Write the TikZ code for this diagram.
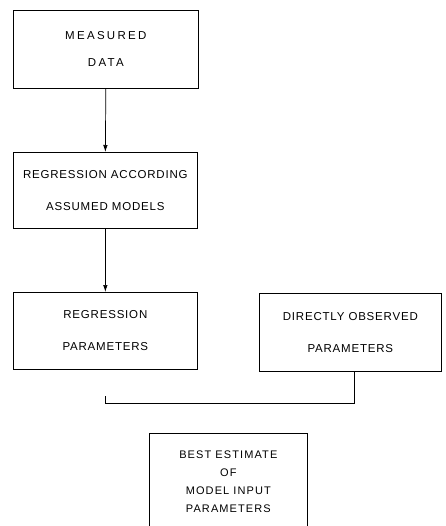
\documentclass[tikz,border=0pt]{standalone}
\usepackage{fontspec}
\setmainfont{Liberation Sans}
\usetikzlibrary{arrows.meta,calc}
\tikzset{
  box/.style={draw, line width=0.7pt, inner sep=0pt, align=center, anchor=north west},
  txt/.style={font={\fontsize{11.5}{32}\selectfont\addfontfeature{LetterSpace=7}}},
  link/.style={line width=0.7pt},
  arr/.style={link, -{Latex[length=7pt,width=4.5pt]}}
}
\begin{document}
\begin{tikzpicture}[x=1pt,y=-1pt]
\useasboundingbox (0,0) rectangle (445,526);
\node[box, minimum width=185pt, minimum height=78pt,
      font={\fontsize{11.5}{27}\selectfont\addfontfeature{LetterSpace=20}}] (m) at (13,10) {MEASURED\\DATA};
\node[box, txt, minimum width=184pt, minimum height=76pt] (r) at (13,152) {REGRESSION ACCORDING\\ASSUMED MODELS};
\node[box, txt, minimum width=184pt, minimum height=77pt] (p) at (13,292) {REGRESSION\\PARAMETERS};
\node[box, txt, minimum width=182pt, minimum height=78pt] (d) at (259,293) {DIRECTLY OBSERVED\\PARAMETERS};
\node[box, minimum width=158pt, minimum height=96pt,
      font={\fontsize{11}{18}\selectfont\addfontfeature{LetterSpace=10}}] (b) at (149,433) {BEST ESTIMATE\\OF\\MODEL INPUT\\PARAMETERS};
\draw[arr] (m.south) -- (r.north);
\draw[arr] (r.south) -- (p.north);
\coordinate (t) at (105,396);
\coordinate (j) at (105,403);
\draw[link] (t) -- (j) -| ($(d.south)+(4,0)$);
\end{tikzpicture}
\end{document}
